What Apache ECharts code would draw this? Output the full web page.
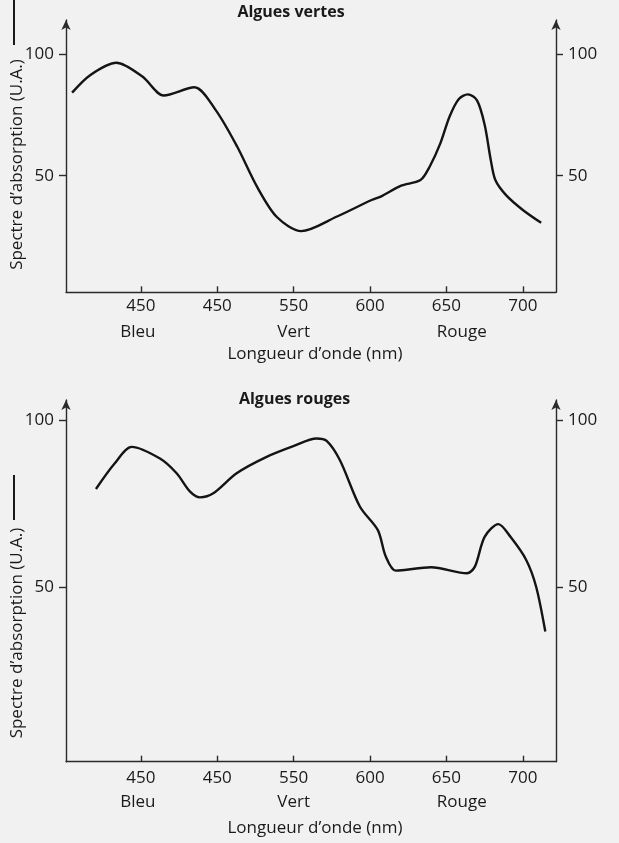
<!DOCTYPE html>
<html><head><meta charset="utf-8">
<script src="https://cdn.jsdelivr.net/npm/echarts@6/dist/echarts.min.js"></script>
<style>html,body{margin:0;padding:0;background:#f1f1f1}#c{width:619px;height:843px}</style>
</head><body><div id="c"></div>
<script>
// ---- data ----
const greenWavelengths = [405, 417, 434, 451, 465, 485, 499, 513, 526, 539, 555, 578, 601, 607, 620, 633, 639, 646, 652, 658, 664, 670, 675, 679, 682, 689, 700, 712];
const greenAbsorption  = [84.2, 91.5, 96.5, 90.8, 83, 86.4, 77, 62, 45.5, 33, 27.2, 33.1, 40, 41.4, 45.8, 48.2, 53.7, 63.3, 74.3, 81.5, 83.5, 81, 71, 56.5, 48.2, 42, 35.9, 30.6];
const redWavelengths   = [420.6, 432.8, 444, 462.5, 473.4, 482.2, 488.7, 497.4, 512.7, 532.3, 549.8, 565, 571.6, 580.3, 593.4, 605.1, 610.3, 616.8, 640, 663.4, 668.6, 675, 684, 691.9, 702.2, 708.7, 714.7];
const redAbsorption    = [79.4, 87, 92, 88.5, 84.1, 78.6, 76.9, 78.1, 84.1, 89, 92.2, 94.5, 93.8, 88, 74.1, 67.1, 59.2, 55, 56, 54.2, 56.2, 65.1, 68.9, 65.1, 58.2, 50.2, 36.8];
const tickValues  = [450, 500, 550, 600, 650, 700];
const tickLabels  = ['450', '450', '550', '600', '650', '700'];
const bandNames     = ['Bleu', 'Vert', 'Rouge'];
const bandPositions = [448, 550, 660];
const yTickValues = [50, 100];
const panelTitles = ['Algues vertes', 'Algues rouges'];
const xAxisName = 'Longueur d’onde (nm)';
const yAxisName = 'Spectre d’absorption (U.A.)';

// ---- styling / layout ----
const FONT = '"Open Sans", "Noto Sans", sans-serif';
const INK = '#1a1a1a';
const AXIS = '#2a2a2a';
const X_MIN = 401, X_MAX = 721.7;
const panels = [
  { grid: { left: 66, right: 63, top: 20, bottom: 550.7 }, yMin: 2, yMax: 114.1, tickMargin: 5, bandMargin: 31, nameGap: 53, xs: greenWavelengths, ys: greenAbsorption },
  { grid: { left: 66, right: 63, top: 400, bottom: 81.3 }, yMin: -2.1, yMax: 106, tickMargin: 8, bandMargin: 32, nameGap: 58, xs: redWavelengths, ys: redAbsorption }
];

const lbl = { fontFamily: FONT, fontSize: 17, color: INK };
const grids = [], xAxes = [], yAxes = [], series = [];
panels.forEach((p, i) => {
  grids.push(Object.assign({ containLabel: false }, p.grid));
  xAxes.push({
    gridIndex: i, type: 'value', min: X_MIN, max: X_MAX, position: 'bottom',
    axisLine: { show: true, onZero: false, lineStyle: { color: AXIS, width: 1.4 } },
    axisTick: { show: true, inside: true, length: 6, customValues: tickValues, lineStyle: { color: AXIS, width: 1.4 } },
    axisLabel: Object.assign({ customValues: tickValues, margin: p.tickMargin,
      formatter: v => tickLabels[tickValues.indexOf(Math.round(v))] }, lbl),
    splitLine: { show: false },
    name: xAxisName, nameLocation: 'middle', nameGap: p.nameGap,
    nameTextStyle: Object.assign({ padding: [0, 0, 0, 8] }, lbl)
  });
  xAxes.push({
    gridIndex: i, type: 'value', min: X_MIN, max: X_MAX, position: 'bottom',
    axisLine: { show: false }, axisTick: { show: false }, splitLine: { show: false },
    axisLabel: Object.assign({ customValues: bandPositions, margin: p.bandMargin,
      formatter: v => bandNames[bandPositions.indexOf(Math.round(v))] }, lbl)
  });
  ['left', 'right'].forEach(pos => {
    yAxes.push({
      gridIndex: i, type: 'value', min: p.yMin, max: p.yMax, position: pos,
      axisLine: { show: true, onZero: false, symbol: ['none', 'arrow'], symbolSize: [7, 10], lineStyle: { color: AXIS, width: 1.4 } },
      axisTick: { show: true, inside: false, length: 7, customValues: yTickValues, lineStyle: { color: AXIS, width: 1.4 } },
      axisLabel: Object.assign({ customValues: yTickValues, margin: 12 }, lbl),
      splitLine: { show: false }
    });
  });
  series.push({
    type: 'line', xAxisIndex: i * 2, yAxisIndex: i * 2,
    data: p.xs.map((x, k) => [x, p.ys[k]]),
    smooth: 0.3, showSymbol: false, silent: true,
    lineStyle: { color: '#141414', width: 2.4 }
  });
});

const graphic = [
  { type: 'text', x: 291, y: 12.5, style: { text: panelTitles[0], font: 'bold 16px ' + FONT, fill: INK, align: 'center', verticalAlign: 'middle' } },
  { type: 'text', x: 294.5, y: 399, style: { text: panelTitles[1], font: 'bold 16px ' + FONT, fill: INK, align: 'center', verticalAlign: 'middle' } },
  { type: 'text', x: 17, y: 164.5, rotation: Math.PI / 2, style: { text: yAxisName, font: '17px ' + FONT, fill: INK, align: 'center', verticalAlign: 'middle' } },
  { type: 'text', x: 17, y: 633, rotation: Math.PI / 2, style: { text: yAxisName, font: '17px ' + FONT, fill: INK, align: 'center', verticalAlign: 'middle' } },
  { type: 'line', shape: { x1: 14, y1: -5, x2: 14, y2: 45 }, style: { stroke: INK, lineWidth: 2 } },
  { type: 'line', shape: { x1: 14, y1: 475, x2: 14, y2: 520 }, style: { stroke: INK, lineWidth: 2 } }
];

const chart = echarts.init(document.getElementById('c'), null, { renderer: 'canvas' });
chart.setOption({
  backgroundColor: '#f1f1f1',
  animation: false,
  textStyle: { fontFamily: FONT },
  grid: grids, xAxis: xAxes, yAxis: yAxes, series: series, graphic: graphic
});
</script></body></html>
